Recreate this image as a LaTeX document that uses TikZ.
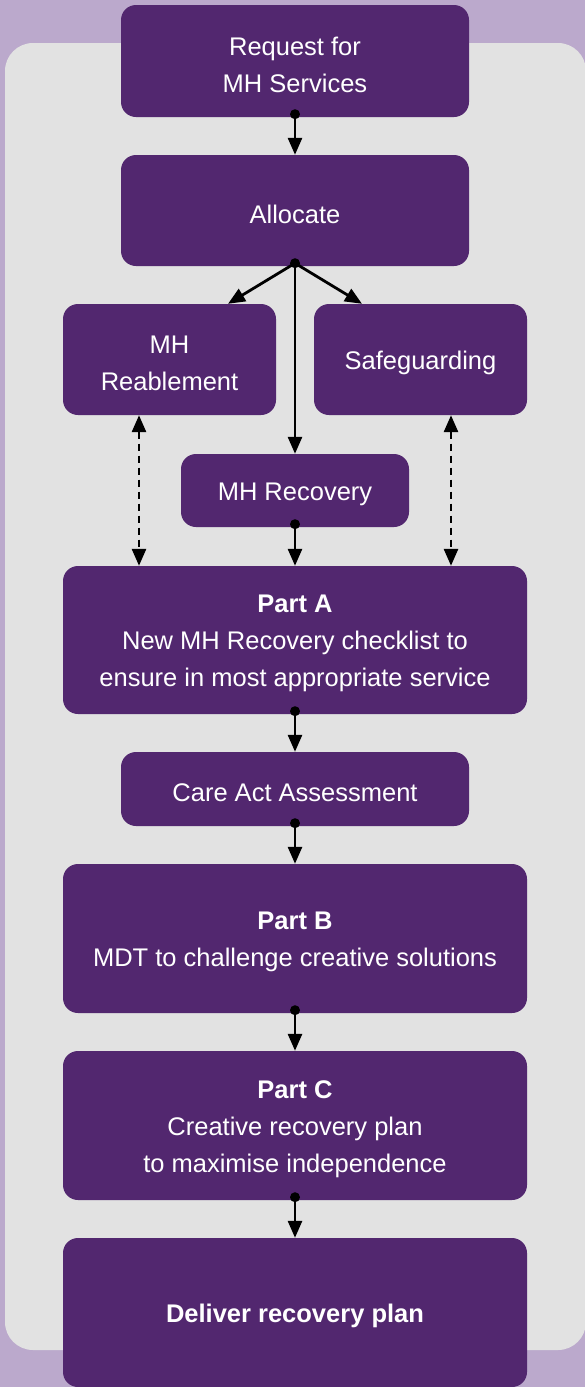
\documentclass[tikz,border=0pt]{standalone}
\usepackage{fontspec}
\setmainfont{Liberation Sans}
\usetikzlibrary{arrows.meta,calc}
\definecolor{bgpurple}{HTML}{BBA9CC}
\definecolor{panelgrey}{HTML}{E2E2E2}
\definecolor{boxpurple}{HTML}{52276F}
\begin{document}
\begin{tikzpicture}[x=1pt,y=-1pt,
  box/.style={fill=boxpurple,rounded corners=15pt,inner sep=0pt},
  txt/.style={inner sep=0pt,text=white,align=center,font=\fontsize{25.5}{37}\selectfont},
  conn/.style={line width=2.8pt,-{Triangle[length=17pt,width=14pt]}},
  dconn/.style={line width=2.8pt,dash pattern=on 7pt off 5pt,{Triangle[length=17pt,width=14pt]}-{Triangle[length=17pt,width=14pt]}},
  dot/.style={fill=black}]
\fill[bgpurple] (0,0) rectangle (585,1387);
\useasboundingbox (0,0) rectangle (585,1387);
\fill[panelgrey,rounded corners=28pt] (5,43) rectangle (586,1350);
\node[box,minimum width=348pt,minimum height=112pt] (req) at (295,61) {};
\node[box,minimum width=348pt,minimum height=111pt] (alloc) at (295,210.5) {};
\node[box,minimum width=213pt,minimum height=111pt] (reab) at (169.5,359.5) {};
\node[box,minimum width=213pt,minimum height=111pt] (safe) at (420.5,359.5) {};
\node[box,minimum width=228pt,minimum height=73pt] (rec) at (295,490.5) {};
\node[box,minimum width=464pt,minimum height=148pt] (partA) at (295,640) {};
\node[box,minimum width=348pt,minimum height=74pt] (care) at (295,789) {};
\node[box,minimum width=464pt,minimum height=149pt] (partB) at (295,938.5) {};
\node[box,minimum width=464pt,minimum height=149pt] (partC) at (295,1125.5) {};
\node[box,minimum width=464pt,minimum height=149pt] (deliver) at (295,1312.5) {};
% texts
\node[txt] (reqT) at ([yshift=-3.5pt]req.center) {Request for\\MH Services};
\node[txt] (allocT) at ([yshift=-3.5pt]alloc.center) {Allocate};
\node[txt] (reabT) at ([yshift=-3.5pt]reab.center) {MH\\Reablement};
\node[txt] (safeT) at ([yshift=-3.5pt]safe.center) {Safeguarding};
\node[txt] (recT) at ([yshift=-3.5pt]rec.center) {MH Recovery};
\node[txt] (partAT) at ([yshift=-3.5pt]partA.center) {\textbf{Part A}\\New MH Recovery checklist to\\ensure in most appropriate service};
\node[txt] (careT) at ([yshift=-3.5pt]care.center) {Care Act Assessment};
\node[txt] (partBT) at ([yshift=-3.5pt]partB.center) {\textbf{Part B}\\MDT to challenge creative solutions};
\node[txt] (partCT) at ([yshift=-3.5pt]partC.center) {\textbf{Part C}\\Creative recovery plan\\to maximise independence};
\node[txt] (deliverT) at ([yshift=-3.5pt]deliver.center) {\textbf{Deliver recovery plan}};
% connectors
\coordinate (reabin) at ([xshift=58.5pt]reab.north);
\coordinate (safein) at ([xshift=-58.5pt]safe.north);
\coordinate (reabd) at ([xshift=-30.5pt]reab.south);
\coordinate (safed) at ([xshift=30.5pt]safe.south);
\draw[conn] ([yshift=3pt]req.south) -- (alloc.north);
\draw[conn] ([yshift=3pt]alloc.south) -- (reabin);
\draw[conn] ([yshift=3pt]alloc.south) -- (safein);
\draw[conn] ([yshift=3pt]alloc.south) -- (rec.north);
\draw[conn] ([yshift=3pt]rec.south) -- (partA.north);
\draw[conn] ([yshift=3pt]partA.south) -- (care.north);
\draw[conn] ([yshift=3pt]care.south) -- (partB.north);
\draw[conn] ([yshift=3pt]partB.south) -- (partC.north);
\draw[conn] ([yshift=3pt]partC.south) -- (deliver.north);
\draw[dconn] (reabd) -- (reabd |- partA.north);
\draw[dconn] (safed) -- (safed |- partA.north);
\foreach \n in {req,alloc,rec,partA,care,partB,partC}
  \fill[dot] ([yshift=3pt]\n.south) circle (5pt);
\end{tikzpicture}
\end{document}
